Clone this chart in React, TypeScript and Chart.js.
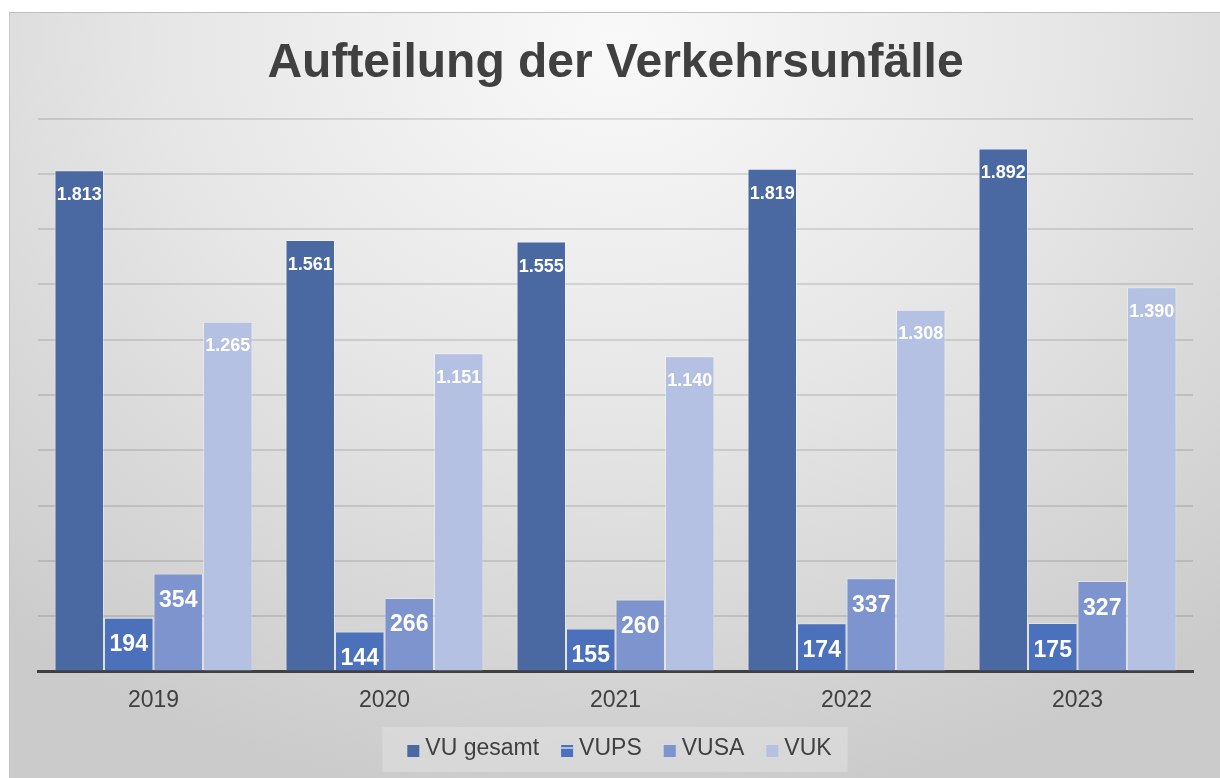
import React, { useEffect, useRef } from "react";
import { Chart, registerables } from "chart.js";

Chart.register(...registerables);

// ---- data ----
const categories = ["2019", "2020", "2021", "2022", "2023"];
const seriesNames = ["VU gesamt", "VUPS", "VUSA", "VUK"];
const vuGesamt = [1813, 1561, 1555, 1819, 1892];
const vups = [194, 144, 155, 174, 175];
const vusa = [354, 266, 260, 337, 327];
const vuk = [1265, 1151, 1140, 1308, 1390];
const yMin = 0;
const yMax = 2000;
const yStep = 200;
const titleText = "Aufteilung der Verkehrsunfälle";

// ---- styles ----
const colors = ["#4a69a3", "#4b71bd", "#7e94cf", "#b5c1e2"];
const labelFontSizes = [18, 23, 23, 18];
const labelOffsets = [30, 33.5, 33.5, 29.5];
const FONT = '"Liberation Sans", Arial, Helvetica, sans-serif';
const TEXT = "#404040";

const fmt = (v: number) => String(v).replace(/\B(?=(\d{3})+(?!\d))/g, ".");

const labelPlugin = {
  id: "barLabels",
  afterDatasetsDraw(chart: any) {
    const ctx = chart.ctx;
    chart.data.datasets.forEach((ds: any, i: number) => {
      const meta = chart.getDatasetMeta(i);
      meta.data.forEach((bar: any, j: number) => {
        const v = ds.data[j];
        ctx.save();
        ctx.font = `bold ${labelFontSizes[i]}px ${FONT}`;
        ctx.fillStyle = "#ffffff";
        ctx.textAlign = "center";
        ctx.textBaseline = "alphabetic";
        ctx.fillText(fmt(v), bar.x, bar.y + labelOffsets[i]);
        ctx.restore();
      });
    });
  },
};

const legendPlugin = {
  id: "customLegend",
  afterDraw(chart: any) {
    const ctx = chart.ctx;
    ctx.save();
    ctx.font = `23px ${FONT}`;
    const box = 12;
    const gap = 6;
    const spacing = 22;
    const padL = 25;
    const padR = 16;
    const labels = chart.data.datasets.map((d: any) => d.label);
    const widths = labels.map((l: string) => ctx.measureText(l).width);
    const itemsW =
      widths.reduce((a: number, w: number) => a + box + gap + w, 0) +
      spacing * (widths.length - 1);
    const boxW = itemsW + padL + padR;
    const boxH = 45;
    const boxX = chart.width / 2 - boxW / 2;
    const boxY = chart.height - 51;
    ctx.fillStyle = "rgba(255,255,255,0.22)";
    ctx.fillRect(boxX, boxY, boxW, boxH);
    let x = boxX + padL;
    const textY = boxY + 22;
    const markY = boxY + 24;
    labels.forEach((l: string, i: number) => {
      ctx.fillStyle = colors[i];
      ctx.fillRect(x, markY - box / 2, box, box);
      if (i === 1) {
        ctx.fillStyle = "rgba(255,255,255,0.55)";
        ctx.fillRect(x, markY - box / 2 + 2, box, 2);
      }
      x += box + gap;
      ctx.fillStyle = TEXT;
      ctx.textAlign = "left";
      ctx.textBaseline = "middle";
      ctx.fillText(l, x, textY);
      x += widths[i] + spacing;
    });
    ctx.restore();
  },
};

export default function App() {
  const ref = useRef<HTMLCanvasElement | null>(null);

  useEffect(() => {
    if (!ref.current) return;
    const series = [vuGesamt, vups, vusa, vuk];
    const chart = new Chart(ref.current, {
      type: "bar",
      data: {
        labels: categories,
        datasets: series.map((d, i) => ({
          label: seriesNames[i],
          data: d,
          backgroundColor: colors[i],
          borderColor: "rgba(255,255,255,0.35)",
          borderWidth: 1,
          categoryPercentage: 0.857,
          barPercentage: 1,
        })),
      },
      options: {
        responsive: false,
        animation: false,
        devicePixelRatio: 1,
        layout: { padding: { left: 28, right: 27, top: 0, bottom: 49 } },
        plugins: {
          legend: { display: false },
          tooltip: { enabled: false },
          title: {
            display: true,
            text: titleText,
            color: TEXT,
            font: { family: FONT, size: 48, weight: "bold", lineHeight: 1.2 },
            padding: { top: 22, bottom: 26 },
          },
        },
        scales: {
          x: {
            grid: { display: false, drawTicks: false },
            border: { display: true, color: "#404040", width: 3 },
            ticks: {
              color: TEXT,
              font: { family: FONT, size: 23, lineHeight: 1.2 },
              padding: 15,
            },
          },
          y: {
            min: yMin,
            max: yMax,
            ticks: { display: false, stepSize: yStep },
            grid: { color: "rgba(0,0,0,0.11)", lineWidth: 2, drawTicks: false },
            border: { display: false },
          },
        },
      },
      plugins: [labelPlugin, legendPlugin],
    });
    return () => chart.destroy();
  }, []);

  return (
    <div
      style={{
        position: "fixed",
        left: 0,
        top: 0,
        width: 1220,
        height: 778,
        background: "#ffffff",
        overflow: "hidden",
      }}
    >
      <div
        style={{
          position: "absolute",
          left: 9,
          top: 12,
          width: 1211,
          height: 766,
          boxSizing: "border-box",
          borderTop: "1px solid #bdbdbd",
          borderLeft: "1px solid #c6c6c6",
          background:
            "radial-gradient(ellipse 78% 100% at 50% 4%, #f9f9f9 0%, #e6e6e6 48%, #cbcbcb 100%)",
        }}
      >
        <canvas
          ref={ref}
          width={1210}
          height={765}
          style={{ position: "absolute", left: 0, top: 0, width: 1210, height: 765 }}
        />
      </div>
    </div>
  );
}
